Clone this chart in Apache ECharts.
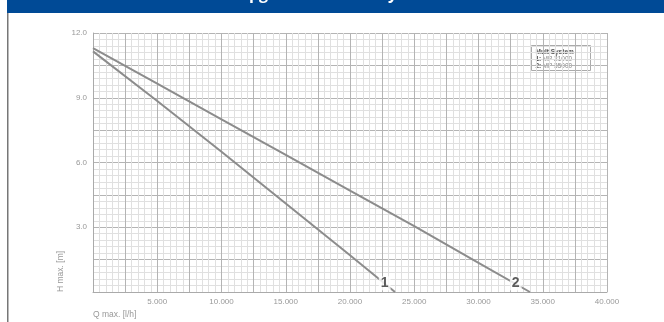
<!DOCTYPE html>
<html><head><meta charset="utf-8">
<script src="https://cdn.jsdelivr.net/npm/echarts@6/dist/echarts.min.js"></script>
<style>html,body{margin:0;padding:0;background:#fff;}#c{width:664px;height:322px;}</style>
</head><body><div id="c"></div>
<script>
const headerTitle = 'Kennlinie Upgrade für MultiSystem';
const legendTitle = 'MultiSystem';
const seriesNames = ['MP 21000', 'MP 35000'];
const curveLabels = ['1', '2'];
// Q [l/h], H [m]
const curve1 = [[0, 11.15], [5000, 8.85], [10000, 6.5], [15000, 4.1], [20000, 1.7], [23500, 0]];
const curve2 = [[0, 11.3], [5000, 9.65], [10000, 8.0], [15000, 6.35], [20000, 4.7], [25000, 3.05], [30000, 1.35], [34000, 0]];
const labelPos1 = [22700, 0.4];
const labelPos2 = [32900, 0.4];
const xTicks = [5000, 10000, 15000, 20000, 25000, 30000, 35000, 40000];
const yTicks = [3, 6, 9, 12];
const xName = 'Q max. [l/h]';
const yName = 'H max. [m]';

const chart = echarts.init(document.getElementById('c'), null, {renderer: 'canvas'});
const fmtX = v => xTicks.includes(v) ? (v / 1000).toFixed(3) : '';
const fmtY = v => yTicks.includes(v) ? v.toFixed(1) : '';
const lineStyle = {color: '#8c8c8c', width: 2};
const lbl = (t) => ({show: true, formatter: t, color: '#333', fontWeight: 'bold', fontSize: 14,
  fontFamily: 'Liberation Sans', backgroundColor: '#fff', padding: [0, 2]});
const legText = (y, txt, bold) => ({type: 'text', left: 4, top: y, style: {
  text: txt, fill: bold ? '#555' : '#888', font: (bold ? 'bold ' : '') + '6.5px "Liberation Sans"'}});
chart.setOption({
  animation: false,
  grid: {left: 93, right: 57, top: 33, bottom: 30},
  xAxis: {
    type: 'value', min: 0, max: 40000, interval: 2500,
    name: xName, nameLocation: 'start', nameGap: 0,
    nameTextStyle: {color: '#999', fontSize: 8.5, fontFamily: 'Liberation Sans', align: 'left', verticalAlign: 'top', padding: [18, 0, 0, 0]},
    axisLine: {show: true, lineStyle: {color: '#aaa', width: 1}},
    axisTick: {show: false},
    axisLabel: {formatter: fmtX, color: '#999', fontSize: 8, fontFamily: 'Liberation Sans', margin: 6},
    splitLine: {show: true, lineStyle: {color: '#b4b4b4', width: 1}},
    minorTick: {show: false, splitNumber: 5},
    minorSplitLine: {show: true, lineStyle: {color: '#e0e0e0', width: 1}}
  },
  yAxis: {
    type: 'value', min: 0, max: 12, interval: 1.5,
    name: yName, nameLocation: 'start', nameGap: 0, nameRotate: 90,
    nameTextStyle: {color: '#999', fontSize: 8.5, fontFamily: 'Liberation Sans', align: 'left', verticalAlign: 'bottom', padding: [0, 0, 28, 0]},
    axisLine: {show: true, lineStyle: {color: '#aaa', width: 1}},
    axisTick: {show: false},
    axisLabel: {formatter: fmtY, color: '#999', fontSize: 8, fontFamily: 'Liberation Sans', margin: 6},
    splitLine: {show: true, lineStyle: {color: '#b4b4b4', width: 1}},
    minorTick: {show: false, splitNumber: 5},
    minorSplitLine: {show: true, lineStyle: {color: '#e0e0e0', width: 1}}
  },
  series: [
    {name: seriesNames[0], type: 'line', data: curve1, symbol: 'none', lineStyle: lineStyle, z: 3},
    {name: seriesNames[1], type: 'line', data: curve2, symbol: 'none', lineStyle: lineStyle, z: 3},
    {type: 'scatter', data: [labelPos1], symbolSize: 0, label: lbl(curveLabels[0]), z: 5},
    {type: 'scatter', data: [labelPos2], symbolSize: 0, label: lbl(curveLabels[1]), z: 5}
  ],
  graphic: [
    {type: 'rect', left: 7, top: 0, shape: {width: 657, height: 13}, style: {fill: '#004a96'}, z: 10},
    {type: 'text', left: 157, top: -14, style: {text: headerTitle, fill: '#fff', font: 'bold 16px "Open Sans"'}, z: 11},
    {type: 'rect', left: 7, top: 13, shape: {width: 1.5, height: 309}, style: {fill: '#777'}, z: 10},
    {type: 'group', left: 531, top: 45, z: 20, children: [
      {type: 'rect', shape: {width: 59, height: 25}, style: {fill: '#fff', stroke: '#aaa', lineWidth: 1}},
      legText(3, legendTitle, true),
      legText(10, '1:', true),
      {type: 'text', left: 11, top: 10, style: {text: seriesNames[0], fill: '#888', font: '6.5px "Liberation Sans"'}},
      legText(17, '2:', true),
      {type: 'text', left: 11, top: 17, style: {text: seriesNames[1], fill: '#888', font: '6.5px "Liberation Sans"'}}
    ]}
  ]
});
</script></body></html>
